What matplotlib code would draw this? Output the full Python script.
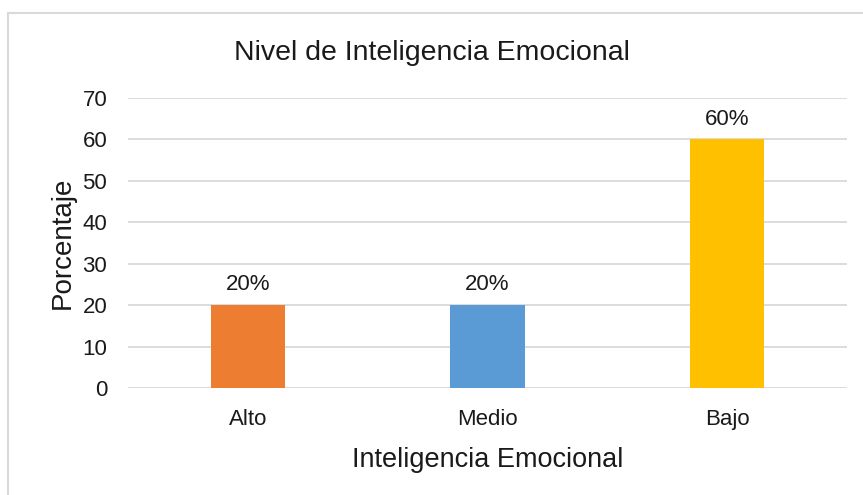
import matplotlib
matplotlib.use('Agg')
import matplotlib.pyplot as plt
from matplotlib.lines import Line2D

categorias = ['Alto', 'Medio', 'Bajo']
porcentajes = [20, 20, 60]
etiquetas = ['20%', '20%', '60%']
colores = ['#ED7D31', '#5B9BD5', '#FFC000']

plt.rcParams['font.family'] = ['Liberation Sans', 'DejaVu Sans']

W, H = 863, 495
fig = plt.figure(figsize=(W / 100, H / 100), dpi=100)
ax = fig.add_axes([128 / W, 1 - 388 / H, (847 - 128) / W, (388 - 98) / H])

x = range(len(categorias))
bars = ax.bar(x, porcentajes, width=0.31, color=colores, zorder=3)
for b, t in zip(bars, etiquetas):
    ax.annotate(t, (b.get_x() + b.get_width() / 2, b.get_height()),
                xytext=(0, 7), textcoords='offset points',
                ha='center', va='bottom', fontsize=16, color='#1a1a1a')

ax.set_xlim(-0.5, 2.5)
ax.set_ylim(0, 70)
ax.set_yticks(range(0, 71, 10))
ax.set_xticks(list(x))
ax.set_xticklabels(categorias)
ax.tick_params(axis='both', length=0, labelsize=16, colors='#1a1a1a')
ax.tick_params(axis='x', pad=15)
ax.tick_params(axis='y', pad=15)
ax.grid(axis='y', color='#d9d9d9', linewidth=1.3, zorder=0)
for s in ax.spines.values():
    s.set_visible(False)

ax.set_ylabel('Porcentaje', fontsize=20, color='#1a1a1a', labelpad=5)
ax.set_xlabel('Inteligencia Emocional', fontsize=19.5, color='#1a1a1a', labelpad=12)
fig.text(0.5, 1 - 53 / H, 'Nivel de Inteligencia Emocional', ha='center',
         va='center', fontsize=20.5, color='#1a1a1a')

# marco del grafico
fig.add_artist(Line2D([8 / W, 8 / W], [0, 1 - 13 / H], transform=fig.transFigure,
                      color='#d9d9d9', linewidth=1.5))
fig.add_artist(Line2D([8 / W, 1], [1 - 13 / H, 1 - 13 / H], transform=fig.transFigure,
                      color='#d9d9d9', linewidth=1.5))

plt.savefig('out.png', dpi=100)
